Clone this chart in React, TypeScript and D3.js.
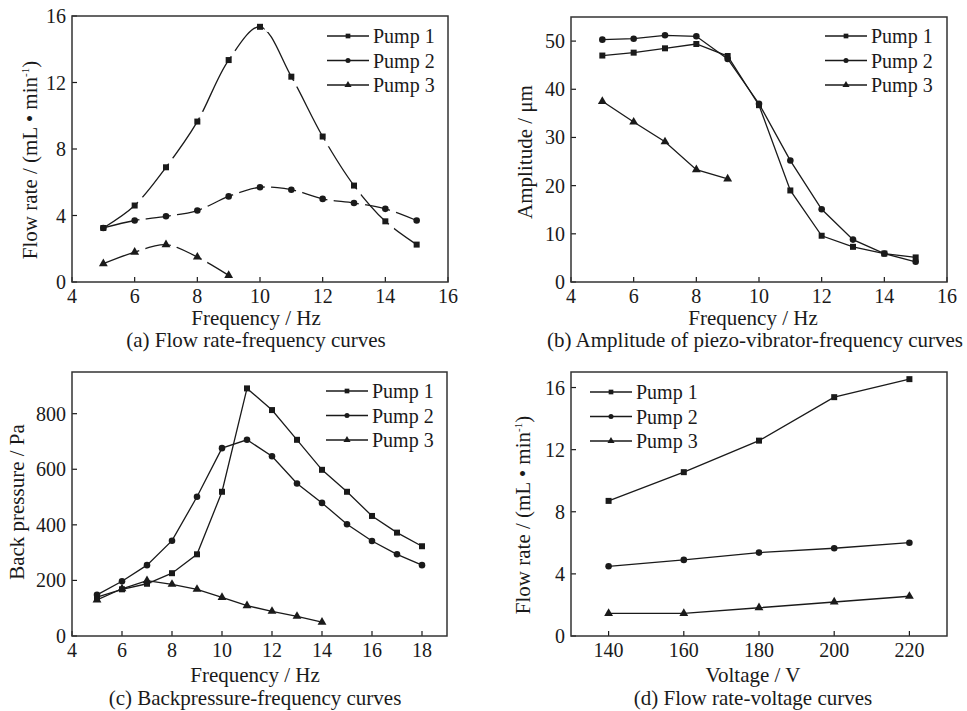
import * as d3 from "d3";
import React from "react";

const FONT = "Liberation Serif, Times New Roman, Times, DejaVu Serif, serif";
const INK = "#1a1a1a";

// (a) flow rate vs frequency
const freqA = [5, 6, 7, 8, 9, 10, 11, 12, 13, 14, 15];
const flowA1 = [3.25, 4.6, 6.9, 9.65, 13.35, 15.35, 12.35, 8.75, 5.8, 3.65, 2.25];
const flowA2 = [3.25, 3.7, 3.95, 4.3, 5.15, 5.7, 5.55, 5.0, 4.75, 4.4, 3.7];
const freqA3 = [5, 6, 7, 8, 9];
const flowA3 = [1.1, 1.8, 2.25, 1.5, 0.4];

// (b) amplitude vs frequency
const ampB1 = [47.0, 47.6, 48.5, 49.4, 46.9, 36.7, 19.0, 9.6, 7.3, 5.9, 5.1];
const ampB2 = [50.3, 50.5, 51.2, 51.0, 46.3, 37.0, 25.2, 15.1, 8.8, 5.9, 4.2];
const ampB3 = [37.5, 33.2, 29.1, 23.3, 21.4];

// (c) back pressure vs frequency
const freqC = [5, 6, 7, 8, 9, 10, 11, 12, 13, 14, 15, 16, 17, 18];
const bpC1 = [140, 168, 188, 226, 294, 519, 891, 813, 706, 598, 519, 432, 372, 323];
const bpC2 = [148, 197, 255, 343, 501, 676, 706, 647, 549, 479, 402, 342, 294, 255];
const freqC3 = [5, 6, 7, 8, 9, 10, 11, 12, 13, 14];
const bpC3 = [130, 170, 199, 186, 168, 139, 109, 89, 71, 50];

// (d) flow rate vs voltage
const voltD = [140, 160, 180, 200, 220];
const flowD1 = [8.7, 10.55, 12.58, 15.38, 16.54];
const flowD2 = [4.49, 4.9, 5.37, 5.65, 6.01];
const flowD3 = [1.46, 1.46, 1.82, 2.19, 2.56];

const pumpNames = ["Pump 1", "Pump 2", "Pump 3"];
const symbols = [d3.symbolSquare, d3.symbolCircle, d3.symbolTriangle];

const freqTicks = [4, 6, 8, 10, 12, 14, 16];
const freqTicksC = [4, 6, 8, 10, 12, 14, 16, 18];
const voltTicks = [140, 160, 180, 200, 220];
const flowTicks = [0, 4, 8, 12, 16];
const ampTicks = [0, 10, 20, 30, 40, 50];
const bpTicks = [0, 200, 400, 600, 800];

const panels = [
  {
    id: "a",
    box: [72, 448, 16, 282],
    xDomain: [4, 16],
    yDomain: [0, 16],
    xTicks: freqTicks,
    yTicks: flowTicks,
    smooth: true,
    series: [
      [freqA, flowA1],
      [freqA, flowA2],
      [freqA3, flowA3],
    ],
    legend: { x: 327, y: 36 },
    xTitle: "Frequency / Hz",
    xTitlePos: [256, 318],
    caption: "(a) Flow rate-frequency curves",
    captionPos: [256, 340],
    yTitle: "flow",
    yTitlePos: [30, 160],
  },
  {
    id: "b",
    box: [571, 947, 17, 282],
    xDomain: [4, 16],
    yDomain: [0, 55],
    xTicks: freqTicks,
    yTicks: ampTicks,
    smooth: false,
    series: [
      [freqA, ampB1],
      [freqA, ampB2],
      [freqA3, ampB3],
    ],
    legend: { x: 825, y: 36 },
    xTitle: "Frequency / Hz",
    xTitlePos: [753, 318],
    caption: "(b) Amplitude of piezo-vibrator-frequency curves",
    captionPos: [755, 340],
    yTitle: "Amplitude / μm",
    yTitlePos: [525, 152],
  },
  {
    id: "c",
    box: [72, 447, 372, 636],
    xDomain: [4, 19],
    yDomain: [0, 950],
    xTicks: freqTicksC,
    yTicks: bpTicks,
    smooth: false,
    series: [
      [freqC, bpC1],
      [freqC, bpC2],
      [freqC3, bpC3],
    ],
    legend: { x: 326, y: 391 },
    xTitle: "Frequency / Hz",
    xTitlePos: [255, 675],
    caption: "(c) Backpressure-frequency curves",
    captionPos: [255, 698],
    yTitle: "Back pressure / Pa",
    yTitlePos: [17, 502],
  },
  {
    id: "d",
    box: [571, 947, 372, 636],
    xDomain: [130, 230],
    yDomain: [0, 17],
    xTicks: voltTicks,
    yTicks: flowTicks,
    smooth: false,
    series: [
      [voltD, flowD1],
      [voltD, flowD2],
      [voltD, flowD3],
    ],
    legend: { x: 590, y: 392 },
    xTitle: "Voltage / V",
    xTitlePos: [753, 675],
    caption: "(d) Flow rate-voltage curves",
    captionPos: [753, 698],
    yTitle: "flow",
    yTitlePos: [523, 515],
  },
];

const markerSize = [36, 34, 34];
const legendMarkerSize = [22, 20, 22];

function YTitle({ text, pos }: { text: string; pos: number[] }) {
  const tf = `translate(${pos[0]},${pos[1]}) rotate(-90)`;
  if (text === "flow") {
    return (
      <text transform={tf} textAnchor="middle" dy="0.35em" fontSize={21}>
        <tspan>Flow rate / (mL • min</tspan>
        <tspan dy={-8} fontSize={11}>
          -1
        </tspan>
        <tspan dy={8}>)</tspan>
      </text>
    );
  }
  return (
    <text transform={tf} textAnchor="middle" dy="0.35em" fontSize={21}>
      {text}
    </text>
  );
}

function Panel({ cfg }: { cfg: any }) {
  const [x0, x1, y0, y1] = cfg.box;
  const x = d3.scaleLinear().domain(cfg.xDomain).range([x0, x1]);
  const y = d3.scaleLinear().domain(cfg.yDomain).range([y1, y0]);
  const line = d3
    .line<number[]>()
    .x((d) => x(d[0]))
    .y((d) => y(d[1]))
    .curve(cfg.smooth ? d3.curveCatmullRom.alpha(0.5) : d3.curveLinear);

  const pts = cfg.series.map(([xs, ys]: number[][]) => xs.map((v, i) => [v, ys[i]]));

  // small breaks in the smoothed lines just after each symbol
  const gaps: number[][] = [];
  if (cfg.smooth) {
    pts.forEach((s: number[][]) => {
      const p = s.map((d) => [x(d[0]), y(d[1])]);
      for (let i = 1; i < p.length - 1; i++) {
        const a = p[i - 1];
        const b = p[i + 1];
        const dx = b[0] - a[0];
        const dy = b[1] - a[1];
        const len = Math.hypot(dx, dy);
        gaps.push([p[i][0] + (dx / len) * 8, p[i][1] + (dy / len) * 8]);
      }
    });
  }

  return (
    <g>
      {cfg.xTicks.map((t: number) => (
        <g key={"xt" + t}>
          <line x1={x(t)} x2={x(t)} y1={y1} y2={y1 - 5} stroke={INK} strokeWidth={1.2} />
          <text x={x(t)} y={y1 + 14} dy="0.35em" textAnchor="middle" fontSize={20}>
            {t}
          </text>
        </g>
      ))}
      {cfg.yTicks.map((t: number) => (
        <g key={"yt" + t}>
          <line x1={x0} x2={x0 + 5} y1={y(t)} y2={y(t)} stroke={INK} strokeWidth={1.2} />
          <text x={x0 - 6} y={y(t)} dy="0.35em" textAnchor="end" fontSize={20}>
            {t}
          </text>
        </g>
      ))}
      {pts.map((s: number[][], k: number) => (
        <path key={"l" + k} d={line(s) || ""} fill="none" stroke={INK} strokeWidth={1.3} />
      ))}
      {gaps.map((g, k) => (
        <circle key={"g" + k} cx={g[0]} cy={g[1]} r={3.2} fill="#fff" />
      ))}
      {pts.map((s: number[][], k: number) =>
        s.map((d, i) => (
          <path
            key={"m" + k + "-" + i}
            transform={`translate(${x(d[0])},${y(d[1])})`}
            d={d3.symbol(symbols[k], markerSize[k])() || ""}
            fill={INK}
          />
        ))
      )}
      <rect x={x0} y={y0} width={x1 - x0} height={y1 - y0} fill="none" stroke="#333" strokeWidth={1.5} />
      {pumpNames.map((name, k) => {
        const ly = cfg.legend.y + k * 24.5;
        const lx = cfg.legend.x;
        return (
          <g key={"lg" + k}>
            <line x1={lx} x2={lx + 42} y1={ly} y2={ly} stroke={INK} strokeWidth={1.3} />
            <path
              transform={`translate(${lx + 21},${ly})`}
              d={d3.symbol(symbols[k], legendMarkerSize[k])() || ""}
              fill={INK}
            />
            <text x={lx + 46} y={ly} dy="0.35em" fontSize={20}>
              {name}
            </text>
          </g>
        );
      })}
      <text x={cfg.xTitlePos[0]} y={cfg.xTitlePos[1]} dy="0.35em" textAnchor="middle" fontSize={21}>
        {cfg.xTitle}
      </text>
      <text x={cfg.captionPos[0]} y={cfg.captionPos[1]} dy="0.35em" textAnchor="middle" fontSize={21}>
        {cfg.caption}
      </text>
      <YTitle text={cfg.yTitle} pos={cfg.yTitlePos} />
    </g>
  );
}

export default function App() {
  return (
    <svg
      width={967}
      height={711}
      style={{ position: "absolute", left: 0, top: 0, background: "#fff", fontFamily: FONT }}
      fill={INK}
    >
      {panels.map((p) => (
        <Panel key={p.id} cfg={p} />
      ))}
    </svg>
  );
}
